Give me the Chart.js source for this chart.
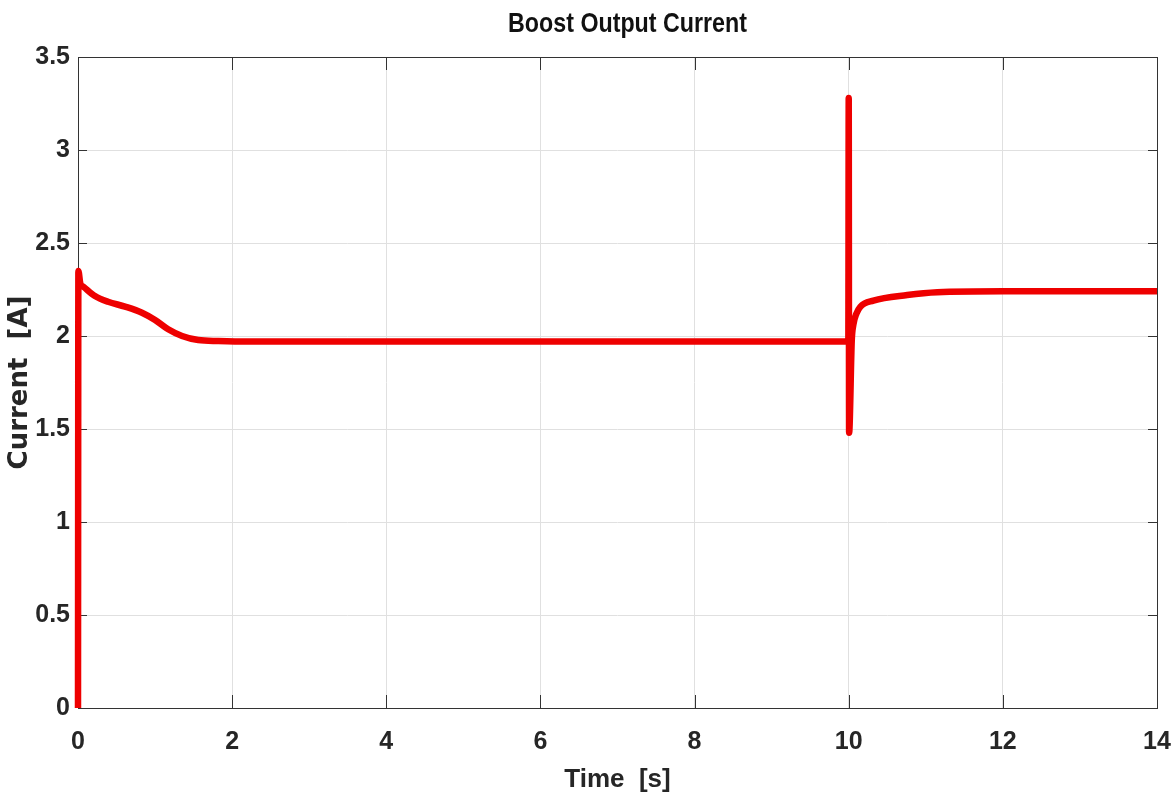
<!DOCTYPE html>
<html>
<head>
<meta charset="utf-8">
<title>Boost Output Current</title>
<script src="https://cdn.jsdelivr.net/npm/chart.js@4.4.1/dist/chart.umd.min.js"></script>
<style>
  html, body { margin:0; padding:0; background:#fff; }
  #wrap { width:1176px; height:797px; }
</style>
</head>
<body>
<div id="wrap"><canvas id="grafico"></canvas></div>
<script>
// datos (tiempo en s, corriente en A)
const tiempo = [0, 0.005, 0.03, 0.07, 0.22, 0.39, 0.61, 0.83, 1.0, 1.17, 1.35, 1.56, 1.82, 2.2, 3.0, 6.0, 9.995,
                10.0, 10.005, 10.04, 10.06, 10.1, 10.15, 10.32, 10.76, 11.15, 12.0, 14.0];
const corriente = [0, 2.35, 2.283, 2.265, 2.215, 2.184, 2.158, 2.125, 2.086, 2.036, 2.0, 1.978, 1.973, 1.97, 1.97, 1.97, 1.97,
                   3.28, 1.48, 1.98, 2.06, 2.12, 2.157, 2.19, 2.22, 2.235, 2.24, 2.24];
const ticksX = [0, 2, 4, 6, 8, 10, 12, 14];
const ticksY = [0, 0.5, 1, 1.5, 2, 2.5, 3, 3.5];

const fuente = "'Liberation Sans', Arial, sans-serif";
const colorTexto = '#262626';

// caja del eje + marcas hacia dentro (estilo matlab)
const cajaEjes = {
    id: 'cajaEjes',
    beforeDatasetsDraw(chart){
        const {ctx, chartArea:a, scales} = chart;
        ctx.save();
        ctx.strokeStyle = '#333';
        ctx.lineWidth = 1;
        ctx.strokeRect(a.left+0.5, a.top+0.5, a.right-a.left, a.bottom-a.top);
        ctx.beginPath();
        ticksX.forEach(v=>{
            const x = Math.round(scales.x.getPixelForValue(v))+0.5;
            ctx.moveTo(x, a.bottom); ctx.lineTo(x, a.bottom-13);
            ctx.moveTo(x, a.top); ctx.lineTo(x, a.top+13);
        });
        ticksY.forEach(v=>{
            const y = Math.round(scales.y.getPixelForValue(v))+0.5;
            ctx.moveTo(a.left, y); ctx.lineTo(a.left+9, y);
            ctx.moveTo(a.right, y); ctx.lineTo(a.right-9, y);
        });
        ctx.stroke();
        ctx.restore();
    },
    afterDraw(chart){
        // titulo centrado sobre los ejes, letra estrecha como en la figura
        const {ctx, chartArea:a} = chart;
        ctx.save();
        ctx.font = "bold 28px " + fuente;
        ctx.fillStyle = '#111';
        ctx.textAlign = 'center';
        ctx.textBaseline = 'middle';
        ctx.translate((a.left+a.right)/2 + 10, 24);
        ctx.scale(0.83, 1);
        ctx.fillText('Boost Output Current', 0, 0);
        ctx.restore();
    }
};

new Chart(document.getElementById('grafico').getContext('2d'), {
    type: 'line',
    data: {
        datasets: [{
            label: 'Corriente',
            data: tiempo.map((t,i)=>({x:t, y:corriente[i]})),
            borderColor: '#ee0000',
            backgroundColor: '#ee0000',
            borderWidth: 6.5,
            borderJoinStyle: 'round',
            borderCapStyle: 'butt',
            pointRadius: 0,
            cubicInterpolationMode: 'monotone',
            clip: false
        }]
    },
    options: {
        responsive: true,
        maintainAspectRatio: false,
        animation: false,
        layout: { padding: { top: 57, right: 19, left: 0, bottom: 0 } },
        plugins: {
            legend: { display: false },
            tooltip: { enabled: false },
            title: { display: false }
        },
        scales: {
            x: {
                type: 'linear',
                min: 0, max: 14,
                afterBuildTicks: s => { s.ticks = ticksX.map(v=>({value:v})); },
                afterFit: s => { s.height = 89; s.paddingLeft = 0; s.paddingRight = 0; },
                grid: { color: '#e0e0e0', drawTicks: false },
                border: { display: false },
                ticks: {
                    color: colorTexto,
                    padding: 19,
                    maxRotation: 0,
                    callback: v => String(v),
                    font: { family: fuente, size: 25, weight: 'bold' }
                },
                title: {
                    display: true,
                    text: 'Time  [s]',
                    color: colorTexto,
                    padding: { top: 0, bottom: 2 },
                    font: { family: fuente, size: 26, weight: 'bold' }
                }
            },
            y: {
                min: 0, max: 3.5,
                afterBuildTicks: s => { s.ticks = ticksY.map(v=>({value:v})); },
                afterFit: s => { s.width = 78; },
                grid: { color: '#e0e0e0', drawTicks: false },
                border: { display: false },
                ticks: {
                    color: colorTexto,
                    padding: 8,
                    callback: v => String(v),
                    font: { family: fuente, size: 25, weight: 'bold' }
                },
                title: {
                    display: true,
                    text: 'Current  [A]',
                    color: colorTexto,
                    padding: { top: 5, bottom: 0 },
                    font: { family: "'DejaVu Sans', sans-serif", size: 26, weight: 'bold' }
                }
            }
        }
    },
    plugins: [cajaEjes]
});
</script>
</body>
</html>
